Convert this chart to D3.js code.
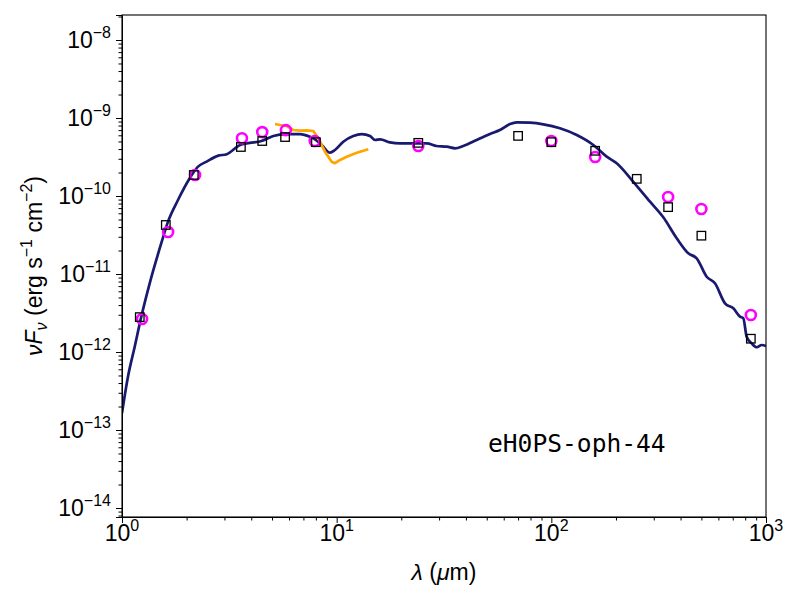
<!DOCTYPE html>
<html>
<head>
<meta charset="utf-8">
<script src="https://cdn.jsdelivr.net/npm/d3@7"></script>
<style>
  body { margin: 0; background: #fff; }
  svg { display: block; }
  text.sans { font-family: "Liberation Sans", Arial, Helvetica, sans-serif; }
  text.mono { font-family: "DejaVu Sans Mono", monospace; }
</style>
</head>
<body>
<svg id="chart" width="800" height="600"></svg>
<script>
// ---- data ----
const modelWave = [1.0, 1.066, 1.146, 1.23, 1.346, 1.524, 1.638, 1.823, 2.068, 2.26, 2.48, 2.81, 3.075, 3.55, 4.5, 5.07, 5.74, 6.75, 7.51, 7.93, 8.52, 9.31, 9.82, 10.74, 11.95, 13.08, 14.3, 15.09, 15.92, 17.72, 19.72, 24.0, 26.3, 29.2, 32.6, 35.6, 38.9, 44.9, 51.8, 57.6, 64.2, 69.0, 79.5, 91.8, 109.7, 131.3, 156.9, 181.1, 201.6, 240.9, 288.2, 332.3, 383.7, 434.5, 475.5, 529.4, 578.4, 644.2, 704.3, 756.6, 784, 812.8, 857.8, 904.7, 955, 1000];
const modelFlux = [1.65e-13, 4.82e-13, 1.17e-12, 2.84e-12, 7.6e-12, 2.48e-11, 4.69e-11, 8.89e-11, 1.69e-10, 2.38e-10, 2.76e-10, 3.29e-10, 3.43e-10, 4.51e-10, 5.12e-10, 5.88e-10, 6.23e-10, 6.23e-10, 5.75e-10, 5.33e-10, 4.51e-10, 3.59e-10, 3.89e-10, 4.97e-10, 5.88e-10, 6.23e-10, 5.88e-10, 5.22e-10, 5.33e-10, 4.88e-10, 4.74e-10, 4.74e-10, 4.74e-10, 4.38e-10, 4.29e-10, 4.09e-10, 4.38e-10, 5.22e-10, 6.23e-10, 7.02e-10, 8.38e-10, 8.81e-10, 8.71e-10, 8.3e-10, 7.38e-10, 6.05e-10, 4.51e-10, 3.19e-10, 2.63e-10, 1.52e-10, 8.45e-11, 5.33e-11, 2.87e-11, 1.84e-11, 1.59e-11, 9.23e-12, 7.6e-12, 4.21e-12, 3.63e-12, 2.84e-12, 2.71e-12, 1.57e-12, 1.29e-12, 1.15e-12, 1.23e-12, 1.19e-12];

const irsWave = [5.16, 5.45, 5.85, 6.28, 6.75, 7.25, 7.78, 8.21, 8.82, 9.48, 9.82, 10.37, 11.14, 12.4, 14.04];
const irsFlux = [8.38e-10, 8.13e-10, 7.89e-10, 7.02e-10, 6.87e-10, 6.95e-10, 6.81e-10, 5.49e-10, 3.7e-10, 2.75e-10, 2.63e-10, 2.9e-10, 3.19e-10, 3.59e-10, 3.97e-10];

const circWave = [1.24, 1.64, 2.19, 3.62, 4.5, 5.8, 7.9, 24, 100, 160, 350, 500, 850];
const circFlux = [2.65e-12, 3.45e-11, 1.86e-10, 5.5e-10, 6.6e-10, 7.0e-10, 5.07e-10, 4.37e-10, 5.07e-10, 3.16e-10, 9.7e-11, 6.8e-11, 2.98e-12];

const sqWave = [1.21, 1.6, 2.16, 3.58, 4.5, 5.75, 8.0, 24, 70, 100, 160, 250, 350, 500, 850];
const sqFlux = [2.8e-12, 4.25e-11, 1.86e-10, 4.25e-10, 5.07e-10, 5.7e-10, 4.9e-10, 4.8e-10, 5.9e-10, 4.9e-10, 3.8e-10, 1.66e-10, 7.2e-11, 3.1e-11, 1.48e-12];

const xTickExps = [0, 1, 2, 3];
const yTickExps = [-14, -13, -12, -11, -10, -9, -8];
const sourceName = "eH0PS-oph-44";

// ---- layout ----
const svg = d3.select("#chart");
const L = 122, R = 766, T = 15, B = 517;
const x = d3.scaleLog().domain([1, 1000]).range([L, R]);
const y = d3.scaleLog().domain([Math.pow(10, -14 - 9 / 78), Math.pow(10, -8 + 25 / 78)]).range([B, T]);

const clipId = "plotclip";
svg.append("clipPath").attr("id", clipId).append("rect")
  .attr("x", L).attr("y", T).attr("width", R - L).attr("height", B - T);

function minorTicks(domain) {
  const out = [];
  const lo = Math.floor(Math.log10(domain[0])), hi = Math.ceil(Math.log10(domain[1]));
  for (let e = lo; e <= hi; e++) for (let m = 2; m <= 9; m++) {
    const v = m * Math.pow(10, e);
    if (v >= domain[0] && v <= domain[1]) out.push(v);
  }
  return out;
}

const g = svg.append("g");
const pts = (ws, fs) => ws.map((w, i) => [w, fs[i]]);
const line = d3.line().x(d => x(d[0])).y(d => y(d[1]));
const smooth = d3.line().x(d => x(d[0])).y(d => y(d[1])).curve(d3.curveMonotoneX);

g.append("path").datum(pts(modelWave, modelFlux))
  .attr("clip-path", `url(#${clipId})`)
  .attr("d", smooth).attr("fill", "none").attr("stroke", "#191970")
  .attr("stroke-width", 2.7).attr("stroke-linejoin", "round");

g.append("path").datum(pts(irsWave, irsFlux))
  .attr("d", line).attr("fill", "none").attr("stroke", "#FFA500")
  .attr("stroke-width", 2.7).attr("stroke-linejoin", "round");

g.selectAll("circle.obs").data(pts(circWave, circFlux)).enter().append("circle")
  .attr("class", "obs")
  .attr("cx", d => x(d[0])).attr("cy", d => y(d[1])).attr("r", 5)
  .attr("fill", "none").attr("stroke", "#FF00FF").attr("stroke-width", 2.6);

const s = 8.5;
g.selectAll("rect.mod").data(pts(sqWave, sqFlux)).enter().append("rect")
  .attr("class", "mod")
  .attr("x", d => x(d[0]) - s / 2).attr("y", d => y(d[1]) - s / 2)
  .attr("width", s).attr("height", s)
  .attr("fill", "none").attr("stroke", "#000").attr("stroke-width", 1.3);

// axes
svg.append("g").attr("transform", `translate(0,${B})`)
  .call(d3.axisBottom(x).tickValues(xTickExps.map(e => Math.pow(10, e))).tickFormat("").tickSizeOuter(0).tickSize(6));
svg.append("g").attr("transform", `translate(0,${B})`)
  .call(d3.axisBottom(x).tickValues(minorTicks(x.domain())).tickFormat("").tickSizeOuter(0).tickSize(3.5))
  .select(".domain").remove();
svg.append("g").attr("transform", `translate(${L},0)`)
  .call(d3.axisLeft(y).tickValues(yTickExps.map(e => Math.pow(10, e))).tickFormat("").tickSizeOuter(0).tickSize(6));
svg.append("g").attr("transform", `translate(${L},0)`)
  .call(d3.axisLeft(y).tickValues(minorTicks(y.domain())).tickFormat("").tickSizeOuter(0).tickSize(3.5))
  .select(".domain").remove();
svg.selectAll(".tick line").attr("stroke", "#000").attr("stroke-width", 1);

svg.append("rect").attr("x", L).attr("y", T).attr("width", R - L).attr("height", B - T)
  .attr("fill", "none").attr("stroke", "#000").attr("stroke-width", 1.1);

function powLabel(sel, e) {
  sel.append("tspan").text("10");
  sel.append("tspan").attr("dy", -10).attr("font-size", 16).text(e < 0 ? "\u2212" + (-e) : String(e));
}
xTickExps.forEach(e => {
  const t = svg.append("text").attr("class", "sans").attr("x", x(Math.pow(10, e))).attr("y", 541)
    .attr("text-anchor", "middle").attr("font-size", 23).attr("fill", "#000");
  powLabel(t, e);
});
yTickExps.forEach(e => {
  const t = svg.append("text").attr("class", "sans").attr("x", 111).attr("y", y(Math.pow(10, e)) + 8)
    .attr("text-anchor", "end").attr("font-size", 23).attr("fill", "#000");
  powLabel(t, e);
});

const xl = svg.append("text").attr("class", "sans").attr("x", 444).attr("y", 580).attr("text-anchor", "middle")
  .attr("font-size", 23).attr("fill", "#000");
xl.append("tspan").attr("font-style", "italic").text("\u03bb");
xl.append("tspan").text(" (");
xl.append("tspan").attr("font-style", "italic").text("\u03bc");
xl.append("tspan").text("m)");

const yl = svg.append("text").attr("class", "sans").attr("transform", "translate(42,266) rotate(-90)")
  .attr("text-anchor", "middle").attr("font-size", 23).attr("fill", "#000");
yl.append("tspan").attr("font-style", "italic").text("\u03bdF");
yl.append("tspan").attr("font-style", "italic").attr("font-size", 16).attr("dy", 5).text("\u03bd");
yl.append("tspan").attr("dy", -5).text(" (erg s");
yl.append("tspan").attr("font-size", 16).attr("dy", -10).text("\u22121");
yl.append("tspan").attr("dy", 10).text(" cm");
yl.append("tspan").attr("font-size", 16).attr("dy", -10).text("\u22122");
yl.append("tspan").attr("dy", 10).text(")");

svg.append("text").attr("class", "mono").attr("x", 488).attr("y", 452)
  .attr("font-size", 24.6).attr("fill", "#000").text(sourceName);
</script>
</body>
</html>
